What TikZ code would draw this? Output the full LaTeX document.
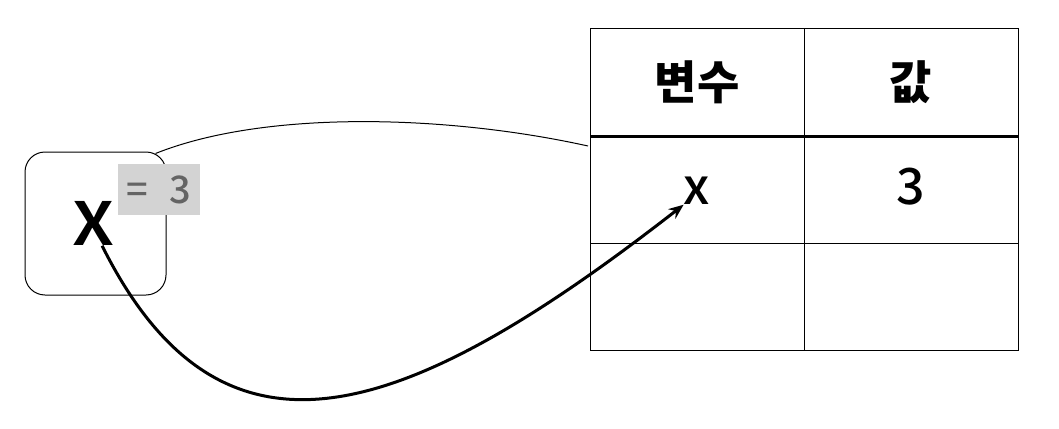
\documentclass[tikz,border=0pt]{standalone}
\usepackage{fontspec}
\setmainfont{Noto Sans CJK KR}
\newfontfamily\medfont{Noto Sans CJK KR Medium}
\usetikzlibrary{positioning, arrows.meta, calc}
\definecolor{hintgray}{RGB}{211,211,211}
\definecolor{hinttext}{RGB}{100,100,100}

\begin{document}
\begin{tikzpicture}[x=1pt,y=-1pt,>={Stealth[length=15pt,width=12pt]},black,
    cell/.style={draw,line width=1pt,minimum width=214pt,minimum height=107pt,inner sep=0pt,outer sep=0pt},
    head/.style={font=\fontsize{46}{50}\selectfont\bfseries},
    val/.style={font=\fontsize{50}{52}\selectfont\medfont,inner sep=0pt,anchor=base},
    varbox/.style={draw,line width=1pt,rounded corners=20pt,minimum width=141pt,minimum height=143pt,inner sep=0pt},
    hint/.style={fill=hintgray,text=hinttext,minimum width=82pt,minimum height=51pt,inner sep=0pt,font=\fontsize{38}{40}\selectfont\medfont}]
  \useasboundingbox (0,0) rectangle (1059,428);
  % table
  \node[cell,head] (h1) at (697,82.5) {변수};
  \node[cell,head,right=0pt of h1] (h2) {값};
  \node[cell,below=0pt of h1] (r11) {};
  \node[cell,right=0pt of r11] (r12) {};
  \node[cell,below=0pt of r11] (r21) {};
  \node[cell,right=0pt of r21] (r22) {};
  \draw[line width=3pt] (h1.south west) -- (h2.south east);
  \node[val] (xv) at ($(r11.center)+(0,15)$) {x};
  \node[val] (tv) at ($(r12.center)+(0,15)$) {3};
  % variable in code
  \node[varbox] (box) at (95.5,223.5) {};
  \node[font=\fontsize{80}{82}\selectfont\medfont,inner sep=0pt] (X) at ($(box.center)+(-1.5,0)$) {x};
  \node[hint] (eq) at (159,189.5) {=\hspace{22pt}3};
  \draw[line width=1pt] ($(box.north east)+(-11,2)$) .. controls +(110,-44) and +(-140,-31) .. ($(r11.north west)+(-2,10)$);
  \draw[->,line width=3pt] (X.-70) .. controls +(120,240) and +(-280,218) .. (xv.south west);
\end{tikzpicture}
\end{document}
